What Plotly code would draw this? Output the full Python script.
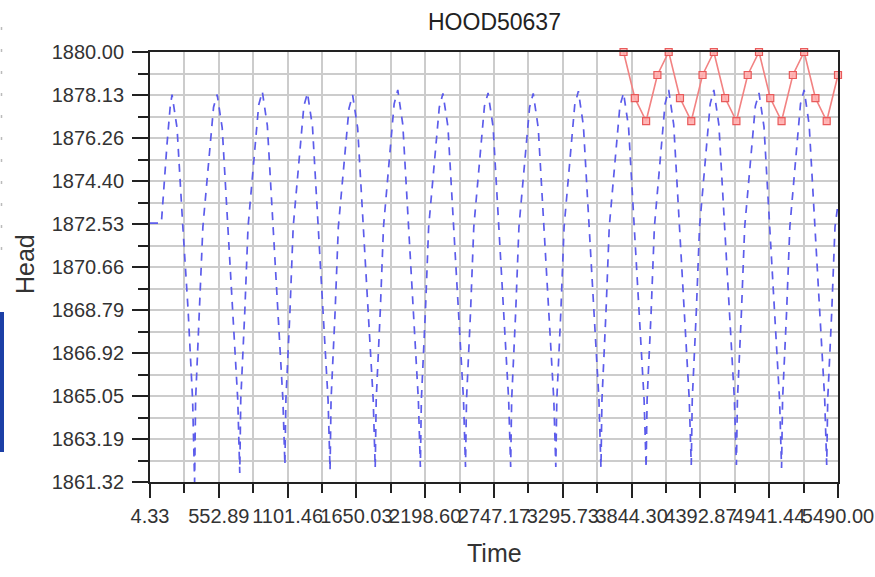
import plotly.graph_objects as go

# ---------------- data ----------------
title_text = "HOOD50637"
x_title = "Time"
y_title = "Head"

x_tick_labels = ["4.33", "552.89", "1101.46", "1650.03", "2198.60", "2747.17",
                 "3295.73", "3844.30", "4392.87", "4941.44", "5490.00"]
y_tick_labels = ["1861.32", "1863.19", "1865.05", "1866.92", "1868.79", "1870.66",
                 "1872.53", "1874.40", "1876.26", "1878.13", "1880.00"]

blue_time = [
    4.33, 95, 140, 165, 180,
    220, 264, 308, 344, 360, 368, 400, 426, 511, 540,
    580, 624, 668, 704, 720, 728, 760, 786, 871, 900,
    940, 984, 1028, 1064, 1080, 1088, 1120, 1146, 1231, 1260,
    1300, 1344, 1388, 1424, 1440, 1448, 1480, 1506, 1591, 1620,
    1660, 1704, 1748, 1784, 1800, 1808, 1840, 1866, 1951, 1980,
    2020, 2064, 2108, 2144, 2160, 2168, 2200, 2226, 2311, 2340,
    2380, 2424, 2468, 2504, 2520, 2528, 2560, 2586, 2671, 2700,
    2740, 2784, 2828, 2864, 2880, 2888, 2920, 2946, 3031, 3060,
    3100, 3144, 3188, 3224, 3240, 3248, 3280, 3306, 3391, 3420,
    3460, 3504, 3548, 3584, 3600, 3608, 3640, 3666, 3751, 3780,
    3820, 3864, 3908, 3944, 3960, 3968, 4000, 4026, 4111, 4140,
    4180, 4224, 4268, 4304, 4320, 4328, 4360, 4386, 4471, 4500,
    4540, 4584, 4628, 4664, 4680, 4688, 4720, 4746, 4831, 4860,
    4900, 4944, 4988, 5024, 5040, 5048, 5080, 5106, 5191, 5220,
    5260, 5304, 5348, 5384, 5400, 5408, 5440, 5466, 5490,
]
blue_head = [
    1872.57, 1872.57, 1876.00, 1877.60, 1878.15,
    1876.70, 1872.60, 1868.80, 1864.90, 1861.32, 1864.90, 1868.70, 1872.40, 1877.60, 1878.15,
    1876.70, 1872.60, 1868.80, 1864.90, 1861.71, 1864.90, 1868.70, 1872.40, 1877.70, 1878.28,
    1876.80, 1872.60, 1868.80, 1864.90, 1862.06, 1864.90, 1868.70, 1872.40, 1877.65, 1878.22,
    1876.75, 1872.60, 1868.80, 1864.90, 1861.84, 1864.90, 1868.70, 1872.40, 1877.55, 1878.13,
    1876.70, 1872.60, 1868.80, 1864.90, 1861.93, 1864.90, 1868.70, 1872.40, 1877.75, 1878.35,
    1876.85, 1872.60, 1868.80, 1864.90, 1861.97, 1864.90, 1868.70, 1872.40, 1877.60, 1878.20,
    1876.75, 1872.60, 1868.80, 1864.90, 1861.97, 1864.90, 1868.70, 1872.40, 1877.65, 1878.22,
    1876.75, 1872.60, 1868.80, 1864.90, 1861.97, 1864.90, 1868.70, 1872.40, 1877.60, 1878.20,
    1876.70, 1872.60, 1868.80, 1864.90, 1861.97, 1864.90, 1868.70, 1872.40, 1877.70, 1878.30,
    1876.80, 1872.60, 1868.80, 1864.90, 1861.93, 1864.90, 1868.70, 1872.40, 1877.65, 1878.22,
    1876.75, 1872.60, 1868.80, 1864.90, 1861.93, 1864.90, 1868.70, 1872.40, 1877.75, 1878.35,
    1876.85, 1872.60, 1868.80, 1864.90, 1862.06, 1864.90, 1868.70, 1872.40, 1877.75, 1878.35,
    1876.85, 1872.60, 1868.80, 1864.90, 1862.06, 1864.90, 1868.70, 1872.40, 1877.65, 1878.22,
    1876.75, 1872.60, 1868.80, 1864.90, 1861.93, 1864.90, 1868.70, 1872.40, 1877.75, 1878.35,
    1876.85, 1872.60, 1868.80, 1864.90, 1862.06, 1864.90, 1868.70, 1872.40, 1873.40,
]

red_time = [3780, 3870, 3960, 4050, 4140, 4230, 4320, 4410, 4500, 4590,
            4680, 4770, 4860, 4950, 5040, 5130, 5220, 5310, 5400, 5490]
red_head = [1880, 1878, 1877, 1879, 1880, 1878, 1877, 1879, 1880, 1878,
            1877, 1879, 1880, 1878, 1877, 1879, 1880, 1878, 1877, 1879]

# ---------------- figure ----------------
W, H = 875, 577
ML, MR, MT, MB = 150, 37, 52, 95
PW, PH = W - ML - MR, H - MT - MB

xvals = [float(v) for v in x_tick_labels]
yvals = [float(v) for v in y_tick_labels]

fig = go.Figure()
fig.add_trace(go.Scatter(
    x=blue_time, y=blue_head, mode="lines",
    line=dict(color="rgb(92,92,235)", width=1.7, dash="8px,7px"),
    showlegend=False, hoverinfo="skip"))
fig.add_trace(go.Scatter(
    x=red_time, y=red_head, mode="lines+markers",
    line=dict(color="rgb(242,130,130)", width=1.6),
    marker=dict(symbol="square", size=7, color="rgba(255,175,175,0.9)",
                line=dict(color="rgb(232,90,90)", width=1.2)),
    showlegend=False, hoverinfo="skip", cliponaxis=False))

grid_col = "#cccccc"
tick_font = dict(family="Liberation Sans, Arial, sans-serif", size=20, color="#333333")

fig.update_xaxes(
    range=[xvals[0], xvals[-1]], tickmode="array", tickvals=xvals, ticktext=x_tick_labels,
    tickangle=0, ticks="outside", ticklen=14, tickwidth=1.5, tickcolor="#222222",
    showline=True, linecolor="#222222", linewidth=2, mirror=True,
    showgrid=True, gridcolor=grid_col, gridwidth=1.5, zeroline=False,
    tickfont=tick_font, ticklabelstandoff=1, automargin=False,
    minor=dict(tickmode="linear", tick0=xvals[0], dtick=(xvals[-1] - xvals[0]) / 20,
               ticks="outside", ticklen=9, tickwidth=1.5, tickcolor="#222222",
               showgrid=True, gridcolor=grid_col, gridwidth=1.5),
)
fig.update_yaxes(
    range=[yvals[0], yvals[-1]], tickmode="array", tickvals=yvals, ticktext=y_tick_labels,
    ticks="outside", ticklen=16, tickwidth=1.5, tickcolor="#222222",
    showline=True, linecolor="#222222", linewidth=2, mirror=True,
    showgrid=True, gridcolor=grid_col, gridwidth=1.5, zeroline=False,
    tickfont=tick_font, ticklabelstandoff=4, automargin=False,
    minor=dict(tickmode="linear", tick0=yvals[0], dtick=(yvals[-1] - yvals[0]) / 20,
               ticks="outside", ticklen=10, tickwidth=1.5, tickcolor="#222222",
               showgrid=True, gridcolor=grid_col, gridwidth=1.5),
)

def px_x(p):
    return (p - ML) / PW

def px_y(p):
    return (H - MB - p) / PH

ann_font = "Liberation Sans, Arial, sans-serif"
annotations = [
    dict(text=title_text, x=px_x(494), y=px_y(22), xref="paper", yref="paper",
         showarrow=False, xanchor="center", yanchor="middle",
         font=dict(family=ann_font, size=23, color="#222222")),
    dict(text=x_title, x=px_x(494), y=px_y(553), xref="paper", yref="paper",
         showarrow=False, xanchor="center", yanchor="middle",
         font=dict(family=ann_font, size=25, color="#333333")),
    dict(text=y_title, x=px_x(25), y=px_y(264), xref="paper", yref="paper",
         showarrow=False, xanchor="center", yanchor="middle", textangle=-90,
         font=dict(family=ann_font, size=25, color="#333333")),
]

shapes = [
    # blue bar at the left edge of the picture
    dict(type="rect", xref="paper", yref="paper", x0=px_x(0), x1=px_x(4),
         y0=px_y(452), y1=px_y(312), fillcolor="#1c3fa6", line=dict(width=0)),
    # faint dotted marks at the left edge
    dict(type="line", xref="paper", yref="paper", x0=px_x(1.5), x1=px_x(1.5),
         y0=px_y(250), y1=px_y(10), line=dict(color="#bbbbbb", width=1.5, dash="3px,19px")),
]

fig.update_layout(
    width=W, height=H,
    margin=dict(l=ML, r=MR, t=MT, b=MB, pad=0, autoexpand=False),
    plot_bgcolor="white", paper_bgcolor="white",
    annotations=annotations, shapes=shapes,
    showlegend=False,
)

fig.write_html("out.html", config={"displayModeBar": False})
